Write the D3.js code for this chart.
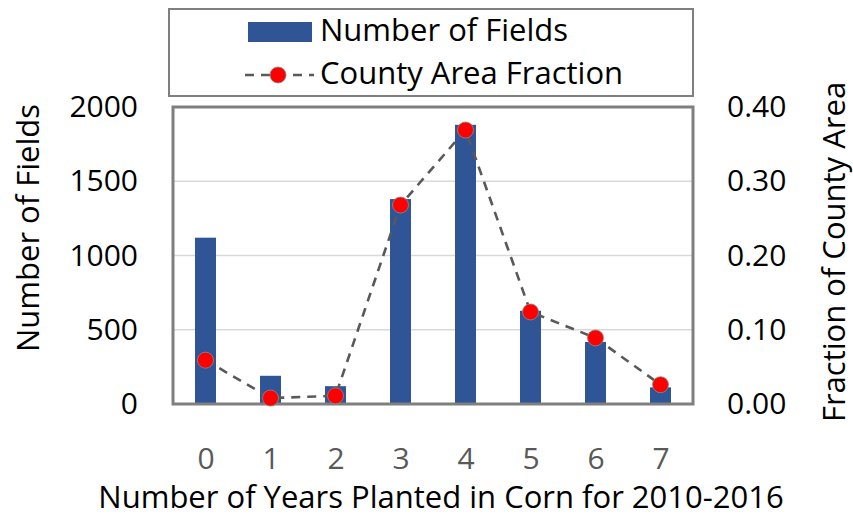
<!DOCTYPE html>
<html><head><meta charset="utf-8">
<script src="https://cdn.jsdelivr.net/npm/d3@7"></script>
<style>body{margin:0;background:#fff;} svg{display:block;}</style>
</head><body>
<svg id="c" width="853" height="519"></svg>
<script>
const categories = ["0","1","2","3","4","5","6","7"];
const fields = [1120, 190, 120, 1380, 1880, 628, 418, 112];
const fraction = [0.059, 0.008, 0.011, 0.268, 0.369, 0.124, 0.089, 0.026];
const leftTicks = [0, 500, 1000, 1500, 2000];
const rightTicks = [0, 0.1, 0.2, 0.3, 0.4];

const font = "Open Sans, sans-serif";
const svg = d3.select("#c");
const L = 173, R = 693, T = 107, B = 404;

const x = d3.scaleBand().domain(categories).range([L, R]).paddingInner(0.677).paddingOuter(0.3385);
const xc = d3.scalePoint().domain(categories).range([L, R]).padding(0.5);
const yL = d3.scaleLinear().domain([0, 2000]).range([B, T]);
const yR = d3.scaleLinear().domain([0, 0.4]).range([B, T]);

// gridlines
svg.append("g").selectAll("line").data(leftTicks.filter(d => d > 0 && d < 2000)).join("line")
  .attr("x1", L).attr("x2", R).attr("y1", d => yL(d)).attr("y2", d => yL(d))
  .attr("stroke", "#d9d9d9").attr("stroke-width", 1.3);

// bars
svg.append("g").selectAll("rect").data(fields).join("rect")
  .attr("x", (d, i) => x(categories[i])).attr("width", x.bandwidth())
  .attr("y", d => yL(d)).attr("height", d => B - yL(d))
  .attr("fill", "#2f5597");

// plot border
svg.append("rect").attr("x", L).attr("y", T).attr("width", R - L).attr("height", B - T)
  .attr("fill", "none").attr("stroke", "#7f7f7f").attr("stroke-width", 3);

// line
const line = d3.line().x((d, i) => xc(categories[i])).y(d => yR(d));
svg.append("path").datum(fraction).attr("d", line)
  .attr("fill", "none").attr("stroke", "#595959").attr("stroke-width", 2.6)
  .attr("stroke-dasharray", "9,7");
svg.append("g").selectAll("circle").data(fraction).join("circle")
  .attr("cx", (d, i) => xc(categories[i])).attr("cy", d => yR(d)).attr("r", 8)
  .attr("fill", "#ff0000").attr("stroke", "#8c8c8c").attr("stroke-width", 0.8);

// axes
const axL = d3.axisLeft(yL).tickValues(leftTicks).tickFormat(d3.format("d")).tickSize(0).tickPadding(35);
const gL = svg.append("g").attr("transform", `translate(${L},0)`).call(axL);
gL.select(".domain").remove();
gL.selectAll("text").attr("font-family", font).attr("font-size", 30).attr("fill", "#000");

const axR = d3.axisRight(yR).tickValues(rightTicks).tickFormat(d3.format(".2f")).tickSize(0).tickPadding(34);
const gR = svg.append("g").attr("transform", `translate(${R},0)`).call(axR);
gR.select(".domain").remove();
gR.selectAll("text").attr("font-family", font).attr("font-size", 30).attr("fill", "#000");

const axB = d3.axisBottom(xc).tickSize(0).tickPadding(44);
const gB = svg.append("g").attr("transform", `translate(0,${B})`).call(axB);
gB.select(".domain").remove();
gB.selectAll("text").attr("font-family", font).attr("font-size", 30).attr("fill", "#595959");

// axis titles
svg.append("text").attr("x", 441).attr("y", 508).attr("text-anchor", "middle")
  .attr("font-family", font).attr("font-size", 31).attr("fill", "#000")
  .text("Number of Years Planted in Corn for 2010-2016");
svg.append("text").attr("transform", "translate(39,228) rotate(-90)").attr("text-anchor", "middle")
  .attr("font-family", font).attr("font-size", 31).attr("fill", "#000").text("Number of Fields");
svg.append("text").attr("transform", "translate(845,252) rotate(-90)").attr("text-anchor", "middle")
  .attr("font-family", font).attr("font-size", 31).attr("fill", "#000").text("Fraction of County Area");

// legend
svg.append("rect").attr("x", 169).attr("y", 9).attr("width", 524).attr("height", 87)
  .attr("fill", "#fff").attr("stroke", "#7f7f7f").attr("stroke-width", 2);
svg.append("rect").attr("x", 248).attr("y", 22).attr("width", 64).attr("height", 20).attr("fill", "#2f5597");
svg.append("text").attr("x", 320).attr("y", 41).attr("font-family", font).attr("font-size", 31)
  .attr("fill", "#000").text("Number of Fields");
svg.append("line").attr("x1", 245).attr("x2", 314).attr("y1", 75).attr("y2", 75)
  .attr("stroke", "#595959").attr("stroke-width", 2.6).attr("stroke-dasharray", "9,7");
svg.append("circle").attr("cx", 278).attr("cy", 75).attr("r", 8).attr("fill", "#ff0000")
  .attr("stroke", "#8c8c8c").attr("stroke-width", 0.8);
svg.append("text").attr("x", 320).attr("y", 84).attr("font-family", font).attr("font-size", 31)
  .attr("fill", "#000").text("County Area Fraction");
</script>
</body></html>
